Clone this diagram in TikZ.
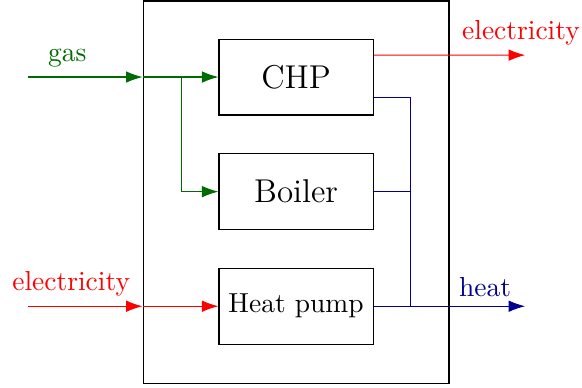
\documentclass[tikz,border=0pt]{standalone}
\usepackage{tikz}
\usetikzlibrary{arrows.meta,calc}
\usetikzlibrary{positioning}
\colorlet{gascol}{green!42!black}
\colorlet{eleccol}{red}
\colorlet{heatcol}{blue!55!black}
\tikzset{
  unitbox/.style={draw, rectangle, minimum width=1.97cm, minimum height=0.97cm},
  flowtip/.style={-{Latex[length=6pt,width=4.2pt]}},
  gasline/.style={draw=gascol},
  elecline/.style={draw=eleccol},
  heatline/.style={draw=heatcol}
}
\begin{document}
\begin{tikzpicture}
  \useasboundingbox (0,0) rectangle (7.44,4.95);

  % plant boundary and units
  \node[draw, rectangle, minimum width=3.91cm, minimum height=4.885cm] (plant) at (3.785,2.494) {};
  \node[unitbox] (chp) at (3.785,3.965) {\large CHP};
  \node[unitbox] (boiler) at (3.785,2.5) {\large Boiler};
  \node[unitbox] (hp) at (3.785,1.035) {Heat pump};

  % end points outside
  \coordinate (gasin) at (0.358,3.965);
  \coordinate (elecin) at (0.358,1.035);
  \coordinate (gasfork) at (2.315,3.965);
  \coordinate (chpelec) at ($(chp.east)+(0,0.28)$);
  \coordinate (chpheat) at ($(chp.east)+(0,-0.26)$);
  \coordinate (elecout) at (6.714,4.245);
  \coordinate (heatbus) at (5.243,1.035);
  \coordinate (heatout) at (6.714,1.035);

  % gas
  \draw[gasline, flowtip] (gasin) -- (gasin -| plant.west);
  \draw[gasline, flowtip] (gasin -| plant.west) -- (chp.west);
  \draw[gasline, flowtip] (gasfork) |- (boiler.west);
  \node[above, text=gascol] (gaslbl) at (0.86,3.965) {gas};

  % electricity
  \draw[elecline, flowtip] (elecin) -- (elecin -| plant.west);
  \draw[elecline, flowtip] (elecin -| plant.west) -- (hp.west);
  \node[above, text=eleccol] (eleclbl) at (0.91,1.035) {electricity};
  \draw[elecline, flowtip] (chpelec) -- (elecout);
  \node[above, text=eleccol] (elecoutlbl) at (6.66,4.245) {electricity};

  % heat
  \draw[heatline] (chpheat) -| (heatbus);
  \draw[heatline] (boiler.east) -| (heatbus);
  \draw[heatline, flowtip] (hp.east) -- (heatout);
  \node[above, text=heatcol] (heatlbl) at (6.2,1.035) {heat};

\end{tikzpicture}
\end{document}
